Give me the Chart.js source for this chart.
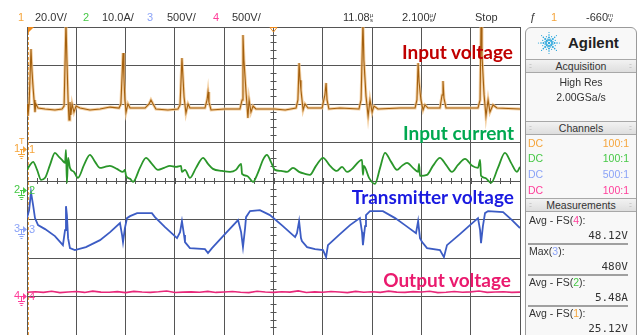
<!DOCTYPE html>
<html>
<head>
<meta charset="utf-8">
<script src="https://cdn.jsdelivr.net/npm/chart.js@4.4.0/dist/chart.umd.min.js"></script>
<style>
  html, body { margin: 0; padding: 0; background: #fff; }
  #scope { position: relative; width: 637px; height: 335px; overflow: hidden; font-family: "Liberation Sans", Arial, sans-serif; color: #333; }
  #scope canvas { position: absolute; left: 0; top: 0; }
  .t { position: absolute; font-size: 11px; line-height: 12px; white-space: nowrap; }
  .u { display: inline-block; font-size: 6px; line-height: 5px; vertical-align: -1px; text-align: center; }
  .note { position: absolute; font-family: Lato, sans-serif; font-weight: 700; font-size: 19px; line-height: 20px; white-space: nowrap; text-align: right; }
  #side { position: absolute; left: 525px; top: 27px; width: 112px; height: 312px; border: 1px solid #9a9a9a; border-radius: 6px 6px 0 0; background: #f8f8f8; box-sizing: border-box; }
  #side .t { font-size: 10.5px; }
  .bar { position: absolute; left: 0; right: 0; height: 12px; background: linear-gradient(#f2f2f2, #dedede); border-top: 1px solid #a8a8a8; border-bottom: 1px solid #a8a8a8; text-align: center; font-size: 10.5px; line-height: 12px; color: #333; }
  .bar i { position: absolute; top: 0; font-style: normal; font-size: 7px; color: #aaa; letter-spacing: -1px; }
  .sep { position: absolute; left: 2px; right: 8px; height: 0; border-top: 2px solid #a0a0a0; }
  .val { font-family: "DejaVu Sans Mono", monospace; font-size: 11px !important; }
</style>
</head>
<body>
<div id="scope">
  <canvas id="chart" width="637" height="335"></canvas>

  <div class="t" style="left:18px;top:11px;color:#f5a53c">1</div>
  <div class="t" style="left:35px;top:11px">20.0V/</div>
  <div class="t" style="left:83px;top:11px;color:#46c846">2</div>
  <div class="t" style="left:102px;top:11px">10.0A/</div>
  <div class="t" style="left:147px;top:11px;color:#8ba3f7">3</div>
  <div class="t" style="left:167px;top:11px">500V/</div>
  <div class="t" style="left:213px;top:11px;color:#ff3d9a">4</div>
  <div class="t" style="left:232px;top:11px">500V/</div>
  <div class="t" style="left:343px;top:11px">11.08<span class="u">&micro;<br>s</span></div>
  <div class="t" style="left:402px;top:11px">2.100<span class="u">&micro;<br>s</span>/</div>
  <div class="t" style="left:475px;top:11px">Stop</div>
  <div class="t" style="left:530px;top:11px">&#402;</div>
  <div class="t" style="left:551px;top:11px;color:#f5a53c">1</div>
  <div class="t" style="left:586px;top:11px">-660<span class="u">m<br>V</span></div>

  <div class="note" style="right:124px;top:42px;color:#c00000">Input voltage</div>
  <div class="note" style="right:123px;top:123px;color:#00a850">Input current</div>
  <div class="note" style="right:123px;top:187px;color:#1a1ae0">Transmitter voltage</div>
  <div class="note" style="right:126px;top:270px;color:#ea1a6e">Output voltage</div>

  <div id="side">
    <svg id="logo" width="24" height="24" viewBox="-12 -12 24 24" style="position:absolute;left:11px;top:3px"></svg>
    <div class="t" style="left:42px;top:6px;font-size:15px;line-height:18px;font-weight:700;color:#222">Agilent</div>
    <div class="bar" style="top:31px"><i style="left:3px">::</i>Acquisition<i style="right:5px">::</i></div>
    <div class="t" style="left:0;width:110px;text-align:center;top:48px">High Res</div>
    <div class="t" style="left:0;width:110px;text-align:center;top:63px">2.00GSa/s</div>
    <div class="bar" style="top:93px"><i style="left:3px">::</i>Channels<i style="right:5px">::</i></div>
    <div class="t" style="left:2px;top:109px;color:#f5a53c">DC</div>
    <div class="t" style="right:7px;top:109px;color:#f5a53c">100:1</div>
    <div class="t" style="left:2px;top:124px;color:#46c846">DC</div>
    <div class="t" style="right:7px;top:124px;color:#46c846">100:1</div>
    <div class="t" style="left:2px;top:140px;color:#8ba3f7">DC</div>
    <div class="t" style="right:7px;top:140px;color:#8ba3f7">500:1</div>
    <div class="t" style="left:2px;top:156px;color:#ff3d9a">DC</div>
    <div class="t" style="right:7px;top:156px;color:#ff3d9a">100:1</div>
    <div class="bar" style="top:170px"><i style="left:3px">::</i>Measurements<i style="right:5px">::</i></div>
    <div id="meas"></div>
  </div>
</div>

<script>
// Timebase: 2.100 us/div, 10 divisions across the screen
const timePerDiv = 2.1;

// Channel 1 - input voltage (20.0 V/div)
const ch1Time = [0, 0.04, 0.09, 0.17, 0.21, 0.26, 0.30, 0.34, 0.38, 0.47, 0.77, 1.19, 1.49, 1.58, 1.66, 1.70, 1.75, 1.79, 1.83, 1.87,
  1.92, 2.00, 2.09, 2.26, 2.68, 3.11, 3.54, 3.92, 4.00, 4.09, 4.13, 4.17, 4.22, 4.30, 4.39, 5.03, 5.20, 5.28, 5.37, 5.49,
  6.00, 6.43, 6.52, 6.60, 6.65, 6.69, 6.77, 6.86, 6.94, 7.58, 7.67, 7.71, 7.75, 7.84, 8.43, 9.07, 9.16, 9.20, 9.24, 9.33,
  9.41, 9.46, 9.54, 9.63, 9.75, 10.56, 11.00, 11.46, 11.54, 11.59, 11.63, 11.67, 11.76, 11.84, 11.97, 12.57, 12.69, 12.74, 12.78, 12.86,
  13.33, 14.14, 14.23, 14.31, 14.35, 14.44, 14.53, 14.61, 14.70, 14.78, 14.95, 15.89, 16.53, 16.61, 16.66, 16.70, 16.78, 16.87, 16.95, 17.08,
  17.59, 17.68, 17.72, 17.76, 17.85, 18.44, 19.21, 19.30, 19.34, 19.38, 19.47, 19.55, 19.64, 19.72, 19.85, 20.02, 21.0];
const ch1Volts = [23.4, 17.1, 23.4, 52.0, 41.0, 31.7, 25.5, 19.2, 23.4, 21.3, 20.8, 20.3, 20.8, 22.3, 66, 46.2, 25.5, 15.1, 24.4, 17.7,
  23.4, 19.2, 22.3, 21.3, 20.3, 20.8, 21.8, 21.3, 23.4, 49.9, 36.9, 25.5, 19.2, 23.4, 21.3, 21.3, 23.4, 25.5, 23.4, 20.8,
  20.3, 20.8, 22.9, 47.3, 35.8, 27.0, 18.7, 23.4, 21.3, 21.3, 25.5, 29.6, 24.4, 20.3, 20.8, 20.8, 25.5, 59.2, 46.2, 29.6,
  16.1, 25.5, 19.2, 22.3, 20.8, 20.8, 20.3, 21.3, 25.5, 44.7, 35.8, 30.7, 20.3, 23.4, 21.3, 21.3, 28.1, 34.3, 25.5, 20.8,
  21.3, 20.8, 25.5, 66, 46.2, 27.5, 17.1, 25.5, 19.2, 22.3, 20.8, 21.3, 21.3, 25.5, 44.7, 34.8, 25.5, 20.3, 22.9, 21.3,
  21.3, 28.1, 35.3, 26.5, 21.3, 21.3, 21.3, 25.5, 66, 48.8, 28.1, 17.1, 25.5, 19.2, 22.9, 21.3, 20.8];

// Channel 2 - input current (10.0 A/div)
const ch2Time = [0, 0.13, 0.26, 0.43, 0.60, 0.77, 0.98, 1.19, 1.36, 1.49, 1.62, 1.66, 1.70, 1.75, 1.83, 2.00, 2.17, 2.43, 2.68, 2.90,
  3.11, 3.32, 3.53, 3.83, 4.09, 4.17, 4.22, 4.39, 4.52, 4.81, 5.07, 5.32, 5.58, 5.84, 6.09, 6.35, 6.56, 6.60, 6.73, 6.94,
  7.20, 7.50, 7.71, 7.92, 8.31, 8.65, 8.90, 9.12, 9.16, 9.37, 9.63, 9.80, 9.92, 10.05, 10.22, 10.39, 10.56, 10.82, 11.08, 11.33,
  11.59, 11.84, 12.05, 12.31, 12.61, 12.91, 13.20, 13.42, 13.63, 13.80, 14.27, 14.31, 14.35, 14.57, 14.82, 15.04, 15.25, 15.51, 15.76, 15.97,
  16.19, 16.44, 16.66, 16.70, 16.74, 17.04, 17.29, 17.59, 17.85, 18.10, 18.36, 18.66, 18.96, 19.21, 19.30, 19.34, 19.51, 19.77, 20.06, 20.36,
  20.62, 20.87, 21.0];
const ch2Amps = [5.19, 6.49, 7.27, 5.19, 2.60, 3.12, 6.49, 9.61, 8.57, 7.79, 7.01, 10.39, 1.82, 8.31, 5.71, 4.67, 3.12, 6.49, 9.09, 7.27,
  5.71, 5.97, 6.23, 5.45, 4.67, 5.19, 3.64, 2.86, 2.08, 5.71, 8.31, 6.75, 5.19, 5.71, 6.23, 5.97, 6.23, 4.67, 5.19, 3.12,
  5.71, 8.31, 6.75, 5.45, 4.93, 4.67, 5.19, 6.75, 4.16, 3.64, 2.08, 3.90, 5.71, 7.79, 9.09, 7.27, 5.19, 4.93, 4.67, 5.71,
  4.67, 4.16, 3.90, 6.23, 8.31, 6.23, 4.93, 5.97, 4.67, 5.19, 7.79, 3.90, 6.23, 3.12, 1.56, 5.71, 9.61, 7.27, 5.19, 6.23,
  7.01, 5.71, 4.67, 6.75, 3.64, 3.90, 6.23, 8.31, 6.49, 4.67, 6.49, 8.05, 6.23, 5.71, 7.79, 3.64, 3.12, 1.82, 5.71, 9.61,
  7.01, 4.67, 5.97];

// Channel 3 - transmitter voltage (500 V/div)
const ch3Time = [0, 0.09, 0.17, 0.26, 0.34, 0.47, 0.77, 1.19, 1.53, 1.62, 1.66, 1.70, 1.75, 1.83, 2.04, 2.51, 3.11, 3.54, 3.96, 4.05,
  4.09, 4.17, 4.26, 4.39, 4.69, 5.32, 5.45, 5.88, 6.39, 6.52, 6.60, 6.69, 6.73, 6.94, 7.58, 7.71, 7.88, 8.43, 8.99, 9.12,
  9.20, 9.29, 9.33, 9.50, 9.92, 10.35, 10.90, 11.42, 11.50, 11.59, 11.67, 11.71, 11.93, 12.27, 12.61, 12.74, 12.82, 13.33, 13.76, 14.18,
  14.27, 14.31, 14.40, 14.44, 14.61, 15.16, 15.68, 16.10, 16.57, 16.66, 16.74, 16.83, 17.04, 17.59, 17.76, 17.89, 18.44, 18.87, 19.21, 19.30,
  19.34, 19.42, 19.51, 19.64, 20.28, 20.66, 21.0];
const ch3Volts = [142.9, 246.8, 480, 311.7, 142.9, 51.9, 0, -90.9, -207.8, -13.0, 298.7, 181.8, -116.9, -246.8, -272.7, -233.8, -142.9, -39.0, 77.9, -77.9,
  -168.8, 13.0, 142.9, 168.8, 207.8, 207.8, 155.8, 26.0, -116.9, -39.0, 103.9, -77.9, -168.8, -246.8, -259.7, -311.7, -246.8, -64.9, 116.9, -39.0,
  -233.8, 13.0, 155.8, 233.8, 246.8, 181.8, 39.0, -103.9, -51.9, 103.9, -116.9, -155.8, -233.8, -259.7, -272.7, -363.6, -207.8, -64.9, 51.9, 142.9,
  -39.0, -207.8, 39.0, 181.8, 233.8, 233.8, 142.9, 51.9, -51.9, 103.9, -116.9, -168.8, -246.8, -272.7, -363.6, -207.8, -64.9, 51.9, 142.9, -13.0,
  -181.8, 39.0, 207.8, 233.8, 220.8, 116.9, 13.0];

// Channel 4 - output voltage (500 V/div)
const ch4Time = [0, 0.35, 0.70, 1.05, 1.40, 1.75, 2.10, 2.45, 2.80, 3.15, 3.50, 3.85, 4.20, 4.55, 4.90, 5.25, 5.60, 5.95, 6.30, 6.65,
  7.00, 7.35, 7.70, 8.05, 8.40, 8.75, 9.10, 9.45, 9.80, 10.15, 10.50, 10.85, 11.20, 11.55, 11.90, 12.25, 12.60, 12.95, 13.30, 13.65,
  14.00, 14.35, 14.70, 15.05, 15.40, 15.75, 16.10, 16.45, 16.80, 17.15, 17.50, 17.85, 18.20, 18.55, 18.90, 19.25, 19.60, 19.95, 20.30, 20.65, 21.0];
const ch4Volts = [46, 52, 44, 58, 41, 49, 55, 43, 60, 47, 45, 53, 40, 56, 48, 44, 51, 62, 42, 47,
  50, 45, 57, 43, 49, 54, 46, 41, 59, 48, 44, 52, 47, 63, 42, 50, 45, 55, 48, 40,
  57, 46, 51, 44, 60, 47, 43, 53, 49, 58, 41, 46, 54, 45, 50, 62, 44, 48, 52, 43, 47];

// Vertical setup per channel: units per division and ground position (divisions from centre)
const channels = [
  { id: '1', perDiv: 20, ground: 0.83, ui: '#f5a53c' },
  { id: '2', perDiv: 10, ground: -0.23, ui: '#46c846' },
  { id: '3', perDiv: 500, ground: -1.25, ui: '#8ba3f7' },
  { id: '4', perDiv: 500, ground: -2.98, ui: '#ff3d9a' }
];

const measurements = [
  ['Avg - FS(', '4', '):', '48.12V', '#ff3d9a'],
  ['Max(', '3', '):', '480V', '#8ba3f7'],
  ['Avg - FS(', '2', '):', '5.48A', '#46c846'],
  ['Avg - FS(', '1', '):', '25.12V', '#f5a53c']
];

function points(ts, vs) {
  return ts.map((t, i) => ({ x: t, y: vs[i] }));
}

function channelScale(ch) {
  return {
    display: false,
    min: (-4 - ch.ground) * ch.perDiv,
    max: (4 - ch.ground) * ch.perDiv
  };
}

function renderSide() {
  const meas = document.getElementById('meas');
  meas.innerHTML = measurements
    .map(([a, n, b, v, c], i) => {
      const top = 186 + i * 31;
      const sep = i < measurements.length - 1 ? `<div class="sep" style="top:${top + 29}px"></div>` : '';
      return `
        <div class="t" style="left:3px;top:${top}px">${a}<span style="color:${c}">${n}</span>${b}</div>
        <div class="t val" style="right:8px;top:${top + 16}px">${v}</div>${sep}`;
    })
    .join('');

  // Agilent spark
  const svg = document.getElementById('logo');
  let dots = '';
  for (let k = 0; k < 16; k++) {
    const a = (k * Math.PI) / 8;
    const radii = k % 2 === 0 ? [[3, 1.1], [5.5, 1.0], [8, 0.8], [10.5, 0.6]] : [[4.2, 0.7], [6.8, 0.6]];
    radii.forEach(([r, s]) => {
      dots += `<circle cx="${(r * Math.cos(a)).toFixed(2)}" cy="${(r * Math.sin(a)).toFixed(2)}" r="${s}" fill="#2aa6dc"/>`;
    });
  }
  dots += '<circle cx="0" cy="0" r="1.2" fill="#2aa6dc"/>';
  svg.innerHTML = dots;
}

// graticule extras, reference markers and channel ground markers
const scopeDecor = {
  id: 'scopeDecor',
  beforeDatasetsDraw(chart) {
    const { ctx, chartArea: a, scales } = chart;
    const cx = scales.x.getPixelForValue(timePerDiv * 5);
    const cy = scales.y.getPixelForValue(0);
    ctx.save();
    ctx.strokeStyle = '#555';
    ctx.lineWidth = 1;
    ctx.beginPath();
    for (let v = -4; v <= 4.001; v += 0.2) {
      const y = Math.round(scales.y.getPixelForValue(v)) + 0.5;
      ctx.moveTo(cx - 3, y);
      ctx.lineTo(cx + 3, y);
    }
    for (let t = 0; t <= timePerDiv * 10 + 0.001; t += timePerDiv / 5) {
      const x = Math.round(scales.x.getPixelForValue(t)) + 0.5;
      ctx.moveTo(x, cy - 3);
      ctx.lineTo(x, cy + 3);
    }
    ctx.stroke();

    // trigger position line at the left edge
    ctx.strokeStyle = '#f0a040';
    ctx.setLineDash([3, 2]);
    ctx.beginPath();
    ctx.moveTo(a.left + 1.5, a.top);
    ctx.lineTo(a.left + 1.5, a.bottom);
    ctx.stroke();
    ctx.restore();
  },
  afterDraw(chart) {
    const { ctx, chartArea: a, scales } = chart;
    ctx.save();
    // trigger / time reference markers on the top edge
    ctx.fillStyle = '#f08a1a';
    ctx.beginPath();
    ctx.moveTo(a.left + 1, a.top);
    ctx.lineTo(a.left + 7, a.top);
    ctx.lineTo(a.left + 1, a.top + 6);
    ctx.fill();
    const cx = scales.x.getPixelForValue(timePerDiv * 5);
    ctx.strokeStyle = '#f08a1a';
    ctx.beginPath();
    ctx.moveTo(cx - 3.5, a.top + 0.5);
    ctx.lineTo(cx + 3.5, a.top + 0.5);
    ctx.lineTo(cx, a.top + 5);
    ctx.closePath();
    ctx.stroke();

    ctx.font = '11px "Liberation Sans", Arial, sans-serif';
    ctx.textBaseline = 'middle';
    ctx.lineWidth = 1;
    channels.forEach((ch) => {
      const y = Math.round(scales['y' + ch.id].getPixelForValue(0)) + 0.5;
      ctx.fillStyle = ch.ui;
      ctx.strokeStyle = ch.ui;
      ctx.fillText(ch.id, 14, y - 1);
      ctx.beginPath();
      ctx.moveTo(20, y);
      ctx.lineTo(23, y);
      ctx.moveTo(21.5, y);
      ctx.lineTo(21.5, y + 5);
      ctx.moveTo(18, y + 5);
      ctx.lineTo(25, y + 5);
      ctx.moveTo(19.5, y + 7);
      ctx.lineTo(23.5, y + 7);
      ctx.moveTo(20.5, y + 9);
      ctx.lineTo(22.5, y + 9);
      ctx.stroke();
      ctx.beginPath();
      ctx.moveTo(23, y - 3.5);
      ctx.lineTo(27, y);
      ctx.lineTo(23, y + 3.5);
      ctx.fill();
      ctx.fillText(ch.id, 29, y);
    });
    // trigger level marker for channel 1
    ctx.fillStyle = '#f5a53c';
    ctx.font = '9px "Liberation Sans", Arial, sans-serif';
    ctx.fillText('T', 19, scales.y1.getPixelForValue(0) - 8);
    ctx.restore();
  }
};

const grid = { color: '#555', lineWidth: 1, drawTicks: false };

function renderChart() {
  new Chart(document.getElementById('chart').getContext('2d'), {
    type: 'line',
    data: {
      datasets: [
        // high-res envelope behind the channel 1 trace
        { data: points(ch1Time, ch1Volts), yAxisID: 'y1', borderColor: 'rgba(240,196,140,0.8)', borderWidth: 3, order: 5 },
        { data: points(ch1Time, ch1Volts), yAxisID: 'y1', borderColor: '#a4600e', borderWidth: 1.1, order: 4 },
        { data: points(ch2Time, ch2Amps), yAxisID: 'y2', borderColor: '#2a962a', borderWidth: 1.8, cubicInterpolationMode: 'monotone', order: 3 },
        { data: points(ch3Time, ch3Volts), yAxisID: 'y3', borderColor: '#3c5cc4', borderWidth: 1.8, order: 2 },
        { data: points(ch4Time, ch4Volts), yAxisID: 'y4', borderColor: '#e8287a', borderWidth: 1.6, order: 1 }
      ]
    },
    options: {
      responsive: false,
      animation: false,
      layout: { padding: { left: 27, top: 27, right: 117, bottom: 0 } },
      elements: { point: { radius: 0 }, line: { tension: 0 } },
      plugins: { legend: { display: false }, tooltip: { enabled: false } },
      scales: {
        x: { type: 'linear', min: 0, max: timePerDiv * 10, ticks: { display: false, count: 11 }, grid, border: { color: '#555' } },
        y: { min: -4, max: 4, ticks: { display: false, count: 9 }, grid, border: { color: '#555' } },
        y1: channelScale(channels[0]),
        y2: channelScale(channels[1]),
        y3: channelScale(channels[2]),
        y4: channelScale(channels[3])
      }
    },
    plugins: [scopeDecor]
  });
}

renderSide();
renderChart();
</script>
</body>
</html>
